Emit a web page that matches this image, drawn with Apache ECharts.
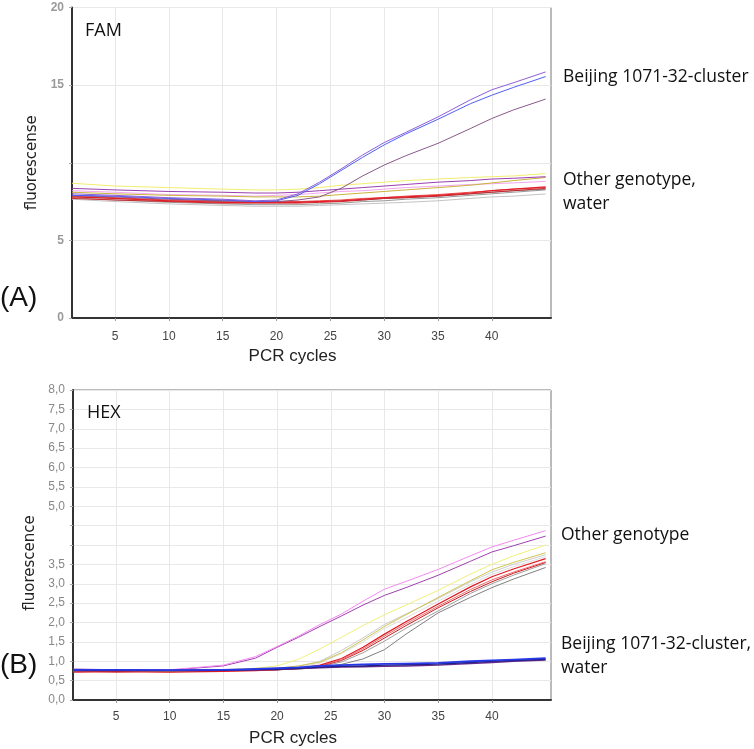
<!DOCTYPE html>
<html>
<head>
<meta charset="utf-8">
<script src="https://cdn.jsdelivr.net/npm/echarts@6/dist/echarts.min.js"></script>
<style>html,body{margin:0;padding:0;background:#fff}#c{width:754px;height:749px}</style>
</head>
<body>
<div id="c"></div>
<script>
// ---- shared x values (PCR cycle) ----
const cycles = [1, 5, 10, 15, 18, 20, 22, 24, 26, 28, 30, 32, 35, 38, 40, 42, 45];
const xTickValues = [5, 10, 15, 20, 25, 30, 35, 40];

// ---- (A) FAM channel ----
const famBeijingViolet = [8.0, 7.9, 7.75, 7.65, 7.55, 7.6, 8.0, 8.75, 9.6, 10.5, 11.3, 11.95, 12.95, 14.05, 14.7, 15.15, 15.85];
const famBeijingBlue   = [7.9, 7.85, 7.7, 7.6, 7.5, 7.55, 7.9, 8.65, 9.5, 10.35, 11.15, 11.85, 12.8, 13.8, 14.35, 14.85, 15.55];
const famBeijingMauve  = [7.9, 7.8, 7.65, 7.55, 7.5, 7.5, 7.6, 7.8, 8.35, 9.15, 9.85, 10.45, 11.25, 12.2, 12.85, 13.4, 14.1];
const famOtherYellow   = [8.68, 8.5, 8.4, 8.3, 8.25, 8.25, 8.3, 8.4, 8.55, 8.65, 8.75, 8.85, 8.95, 9.05, 9.1, 9.15, 9.3];
const famOtherPurple   = [8.35, 8.25, 8.15, 8.1, 8.05, 8.05, 8.1, 8.2, 8.3, 8.4, 8.5, 8.6, 8.75, 8.85, 8.95, 9.0, 9.1];
const famOtherOlive    = [8.1, 8.0, 7.9, 7.85, 7.8, 7.8, 7.8, 7.85, 7.95, 8.05, 8.15, 8.25, 8.4, 8.55, 8.7, 8.85, 9.05];
const famOtherPink     = [8.2, 8.1, 7.95, 7.9, 7.85, 7.9, 7.95, 8.05, 8.15, 8.2, 8.3, 8.4, 8.5, 8.6, 8.65, 8.7, 8.8];
const famRed1          = [7.8, 7.7, 7.55, 7.45, 7.45, 7.45, 7.45, 7.5, 7.55, 7.65, 7.75, 7.8, 7.9, 8.05, 8.2, 8.3, 8.45];
const famRed2          = [7.9, 7.75, 7.6, 7.55, 7.5, 7.5, 7.5, 7.55, 7.6, 7.7, 7.75, 7.85, 7.95, 8.1, 8.2, 8.3, 8.4];
const famRed3          = [7.7, 7.6, 7.5, 7.4, 7.4, 7.4, 7.4, 7.45, 7.5, 7.6, 7.7, 7.75, 7.85, 8.0, 8.1, 8.2, 8.35];
const famGray1         = [7.75, 7.6, 7.45, 7.35, 7.3, 7.3, 7.3, 7.35, 7.4, 7.5, 7.55, 7.65, 7.75, 7.9, 8.0, 8.1, 8.25];
const famGray2         = [7.65, 7.5, 7.35, 7.25, 7.2, 7.2, 7.2, 7.25, 7.3, 7.35, 7.4, 7.45, 7.55, 7.7, 7.8, 7.85, 7.99];
const famGray3         = [7.85, 7.7, 7.55, 7.5, 7.45, 7.45, 7.5, 7.5, 7.55, 7.6, 7.7, 7.75, 7.85, 8.0, 8.1, 8.2, 8.3];

// ---- (B) HEX channel ----
const hexOtherPink     = [0.78, 0.78, 0.78, 0.9, 1.12, 1.38, 1.65, 1.95, 2.22, 2.55, 2.86, 3.06, 3.37, 3.72, 3.95, 4.12, 4.37];
const hexOtherPurple   = [0.8, 0.78, 0.77, 0.88, 1.08, 1.36, 1.62, 1.9, 2.17, 2.45, 2.7, 2.9, 3.22, 3.58, 3.82, 3.98, 4.23];
const hexOtherYellow   = [0.77, 0.77, 0.76, 0.78, 0.82, 0.88, 1.05, 1.32, 1.62, 1.92, 2.2, 2.45, 2.83, 3.25, 3.5, 3.72, 4.0];
const hexOtherOlive    = [0.76, 0.76, 0.75, 0.77, 0.79, 0.82, 0.88, 0.98, 1.22, 1.55, 1.9, 2.2, 2.65, 3.08, 3.36, 3.55, 3.8];
const hexLightGray1    = [0.77, 0.76, 0.76, 0.77, 0.78, 0.8, 0.87, 1.0, 1.28, 1.6, 1.95, 2.22, 2.62, 3.05, 3.3, 3.5, 3.75];
const hexLightGray2    = [0.75, 0.75, 0.74, 0.76, 0.78, 0.8, 0.85, 0.95, 1.2, 1.5, 1.85, 2.12, 2.55, 2.98, 3.24, 3.44, 3.7];
const hexRed1          = [0.72, 0.73, 0.72, 0.74, 0.76, 0.78, 0.82, 0.9, 1.07, 1.36, 1.7, 2.02, 2.48, 2.92, 3.18, 3.38, 3.65];
const hexRed2          = [0.74, 0.74, 0.73, 0.75, 0.77, 0.79, 0.82, 0.88, 1.04, 1.32, 1.65, 1.97, 2.42, 2.85, 3.1, 3.3, 3.57];
const hexRed3          = [0.75, 0.72, 0.75, 0.76, 0.77, 0.78, 0.81, 0.87, 1.02, 1.28, 1.6, 1.92, 2.38, 2.8, 3.05, 3.27, 3.55];
const hexGray          = [0.76, 0.76, 0.75, 0.76, 0.77, 0.78, 0.8, 0.86, 0.98, 1.22, 1.52, 1.85, 2.3, 2.75, 3.0, 3.22, 3.52];
const hexDarkGray      = [0.75, 0.75, 0.75, 0.76, 0.77, 0.78, 0.8, 0.84, 0.92, 1.06, 1.3, 1.7, 2.25, 2.65, 2.9, 3.12, 3.42];
const hexBeijingBlue   = [0.78, 0.78, 0.77, 0.78, 0.8, 0.82, 0.84, 0.88, 0.9, 0.92, 0.93, 0.94, 0.96, 1.0, 1.02, 1.04, 1.08];
const hexBeijingNavy   = [0.76, 0.76, 0.76, 0.77, 0.79, 0.8, 0.82, 0.85, 0.87, 0.88, 0.9, 0.91, 0.93, 0.97, 1.0, 1.02, 1.05];
const hexWaterPurple   = [0.77, 0.77, 0.76, 0.77, 0.78, 0.79, 0.81, 0.83, 0.85, 0.86, 0.87, 0.88, 0.9, 0.94, 0.97, 1.0, 1.03];

// ---- styling (kept separate from data) ----
const famSeries = [
  [famGray2, '#c4c4c4', 1], [famGray1, '#9a9a9a', 1], [famGray3, '#7a7a7a', 1],
  [famRed3, '#c8282e', 1], [famRed2, '#ee4a4a', 1], [famRed1, '#e3202a', 1.2],
  [famOtherPink, '#f4a6f0', 1], [famOtherOlive, '#c9b43c', 1], [famOtherPurple, '#9a3fb0', 1],
  [famOtherYellow, '#f2ee70', 1],
  [famBeijingMauve, '#8a5a8c', 1], [famBeijingBlue, '#4f5ff5', 1], [famBeijingViolet, '#8c5fd8', 1]
];
const hexSeries = [
  [hexDarkGray, '#808080', 1], [hexGray, '#a0a0a0', 1], [hexLightGray2, '#dddddd', 1], [hexLightGray1, '#cccccc', 1],
  [hexRed3, '#c81c24', 1], [hexRed2, '#f26a6a', 1], [hexRed1, '#e01a22', 1.2],
  [hexOtherOlive, '#cfc650', 1], [hexOtherYellow, '#f2f07a', 1],
  [hexOtherPurple, '#a040b0', 1], [hexOtherPink, '#f48af0', 1],
  [hexWaterPurple, '#6a2a8a', 1.5], [hexBeijingNavy, '#202080', 1.5], [hexBeijingBlue, '#2838e6', 1.8]
];

function buildSeries(list, idx) {
  return list.map(([vals, color, w]) => ({
    type: 'line', xAxisIndex: idx, yAxisIndex: idx, symbol: 'none',
    smooth: false,
    silent: true, animation: false,
    data: cycles.map((c, i) => [c, vals[i]]),
    lineStyle: { color: color, width: w, join: 'round' }
  }));
}

const xAxisBase = (gi, labelMargin) => ({
  type: 'value', gridIndex: gi, min: 1, max: 45.5,
  name: 'PCR cycles', nameLocation: 'middle', nameGap: 30,
  nameTextStyle: { fontFamily: 'Liberation Sans', fontSize: 17, color: '#222', padding: [0, 38, 0, 0] },
  axisLine: { show: true, onZero: false, lineStyle: { color: '#333', width: 2 } },
  axisTick: { show: true, length: 3, customValues: xTickValues, lineStyle: { color: '#999' } },
  axisLabel: { customValues: xTickValues, margin: labelMargin, fontFamily: 'Liberation Sans', fontSize: 12, color: '#444' },
  splitLine: { show: true, lineStyle: { color: '#e8e8e8', width: 1 } }
});

const option = {
  animation: false,
  backgroundColor: '#fff',
  grid: [
    { left: 72, top: 7.5, width: 479, height: 310.5, show: true, borderColor: '#777', borderWidth: 1, containLabel: false },
    { left: 73, top: 390, width: 478, height: 310, show: true, borderColor: '#777', borderWidth: 1, containLabel: false }
  ],
  xAxis: [xAxisBase(0, 13), xAxisBase(1, 11)],
  yAxis: [
    {
      type: 'value', gridIndex: 0, min: 0, max: 20, interval: 5,
      name: 'fluorescense', nameLocation: 'middle', nameGap: 27,
      nameTextStyle: { fontFamily: 'DejaVu Sans', fontSize: 15, color: '#222' },
      axisLine: { show: true, lineStyle: { color: '#333', width: 2 } },
      axisTick: { show: true, length: 3, lineStyle: { color: '#aaa' } },
      axisLabel: { margin: 8, fontFamily: 'Liberation Sans', fontSize: 12, fontWeight: 'bold', color: '#9a9a9a',
        formatter: v => (v === 10 ? '' : String(v)) },
      splitLine: { show: true, lineStyle: { color: '#e8e8e8' } }
    },
    {
      type: 'value', gridIndex: 1, min: 0, max: 8, interval: 0.5,
      name: 'fluorescence', nameLocation: 'middle', nameGap: 28,
      nameTextStyle: { fontFamily: 'DejaVu Sans', fontSize: 15, color: '#222', padding: [0, 36, 0, 0] },
      axisLine: { show: true, lineStyle: { color: '#333', width: 2 } },
      axisTick: { show: true, length: 3, lineStyle: { color: '#aaa' } },
      axisLabel: { margin: 8, fontFamily: 'Liberation Sans', fontSize: 12, color: '#888',
        formatter: v => ((v === 4 || v === 4.5) ? '' : v.toFixed(1).replace('.', ',')) },
      splitLine: { show: true, lineStyle: { color: '#e8e8e8' } }
    }
  ],
  series: buildSeries(famSeries, 0).concat(buildSeries(hexSeries, 1)),
  graphic: [
    { type: 'text', x: 85, y: 31, z: 100, style: { text: 'FAM', fontFamily: 'Open Sans', fontSize: 18, fill: '#111', verticalAlign: 'middle' } },
    { type: 'text', x: 87, y: 413, z: 100, style: { text: 'HEX', fontFamily: 'Open Sans', fontSize: 18, fill: '#111', verticalAlign: 'middle' } },
    { type: 'text', x: 0, y: 298, style: { text: '(A)', fontFamily: 'Liberation Sans', fontSize: 28, fill: '#111', verticalAlign: 'middle' } },
    { type: 'text', x: 0, y: 665, style: { text: '(B)', fontFamily: 'Liberation Sans', fontSize: 28, fill: '#111', verticalAlign: 'middle' } },
    { type: 'text', x: 563, y: 77, style: { text: 'Beijing 1071-32-cluster', fontFamily: 'Open Sans', fontSize: 17.5, fill: '#111', verticalAlign: 'middle' } },
    { type: 'text', x: 563, y: 180, style: { text: 'Other genotype,', fontFamily: 'Open Sans', fontSize: 17.5, fill: '#111', verticalAlign: 'middle' } },
    { type: 'text', x: 563, y: 204, style: { text: 'water', fontFamily: 'Open Sans', fontSize: 17.5, fill: '#111', verticalAlign: 'middle' } },
    { type: 'text', x: 561, y: 535, style: { text: 'Other genotype', fontFamily: 'Open Sans', fontSize: 17.5, fill: '#111', verticalAlign: 'middle' } },
    { type: 'text', x: 561, y: 644, style: { text: 'Beijing 1071-32-cluster,', fontFamily: 'Open Sans', fontSize: 17.5, fill: '#111', verticalAlign: 'middle' } },
    { type: 'text', x: 561, y: 668, style: { text: 'water', fontFamily: 'Open Sans', fontSize: 17.5, fill: '#111', verticalAlign: 'middle' } }
  ]
};

const chart = echarts.init(document.getElementById('c'), null, { renderer: 'canvas' });
chart.setOption(option);
</script>
</body>
</html>
